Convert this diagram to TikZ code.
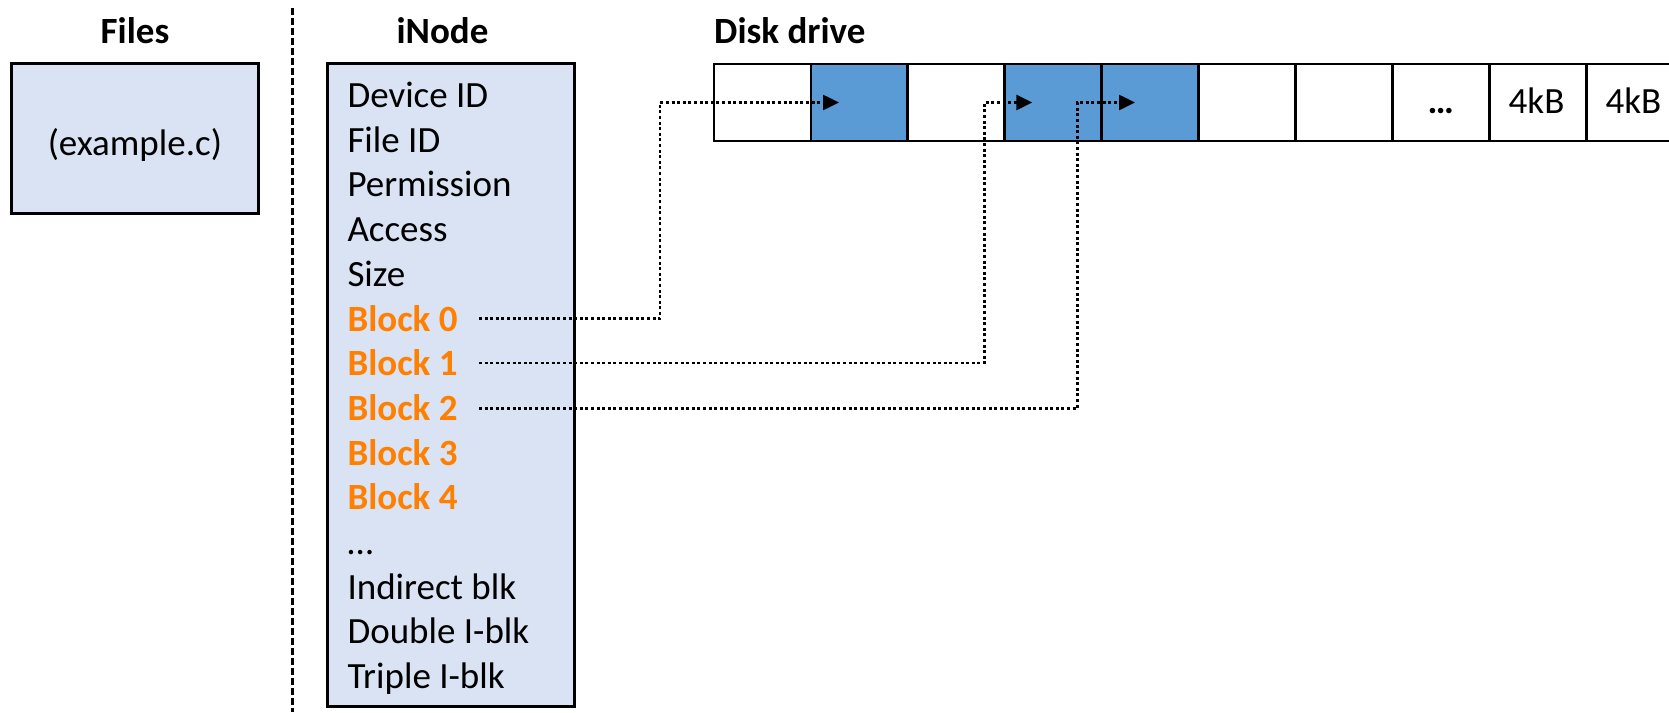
\documentclass[tikz,border=0pt]{standalone}
\usepackage{fontspec}
\setmainfont{Carlito}
\usetikzlibrary{arrows.meta}
\definecolor{boxfill}{HTML}{DAE3F3}
\definecolor{cellblue}{HTML}{5B9BD5}
\definecolor{blkorange}{HTML}{FF8000}
\begin{document}
\begin{tikzpicture}[x=1pt,y=-1pt,
  every node/.style={font=\fontsize{37}{45.2}\selectfont, inner sep=0pt},
  title/.style={font=\bfseries\fontsize{37}{45.2}\selectfont, anchor=base},
  panel/.style={draw=black, line width=3pt, fill=boxfill, inner sep=0pt},
  cellbox/.style={draw=black, line width=2.8pt, minimum width=96.9pt, minimum height=77pt, inner sep=0pt},
  usedcell/.style={cellbox, fill=cellblue},
  field/.style={anchor=base west},
  blk/.style={field, text=blkorange, font=\bfseries\fontsize{37}{45.2}\selectfont},
  link/.style={line width=2.5pt, dash pattern=on 3pt off 2.6pt, -{Triangle[length=16pt,width=15pt]}},
  sepline/.style={line width=2.5pt, dash pattern=on 7pt off 3pt}
]
\useasboundingbox (0,0) rectangle (1669,712);
\clip (0,0) rectangle (1669,712);

% titles
\node[title] (filesT) at (135,43.5) {Files};
\node[title] (inodeT) at (442.5,43.5) {iNode};
\node[title, anchor=base west] (diskT) at (714,43.5) {Disk drive};

% separator
\coordinate (sepTop) at (292.5,8);
\coordinate (sepBot) at (292.5,712);
\draw[sepline] (sepTop) -- (sepBot);

% files box
\node[panel, minimum width=247.7pt, minimum height=150pt] (files) at (134.9,138.3) {};
\node[anchor=base] (fname) at (134.9,155) {(example.c)};

% inode box
\node[panel, minimum width=246.6pt, minimum height=642.7pt] (inode) at (451,384.65) {};
\node[field] (f0) at (347.3,107.5) {Device ID};
\node[field] (f1) at (347.3,152.2) {File ID};
\node[field] (f2) at (347.3,196.9) {Permission};
\node[field] (f3) at (347.3,241.6) {Access};
\node[field] (f4) at (347.3,286.3) {Size};
\node[blk] (b0) at (347.3,331.0) {Block 0};
\node[blk] (b1) at (347.3,375.7) {Block 1};
\node[blk] (b2) at (347.3,420.4) {Block 2};
\node[blk] (b3) at (347.3,465.1) {Block 3};
\node[blk] (b4) at (347.3,509.8) {Block 4};
\node[field] (f5) at (347.3,554.5) {…};
\node[field] (f6) at (347.3,599.2) {Indirect blk};
\node[field] (f7) at (347.3,643.9) {Double I-blk};
\node[field] (f8) at (347.3,688.6) {Triple I-blk};

% disk cells
\node[cellbox]  (c0) at (762.45,102.5) {};
\node[usedcell] (c1) at (859.35,102.5) {};
\node[cellbox]  (c2) at (956.25,102.5) {};
\node[usedcell] (c3) at (1053.15,102.5) {};
\node[usedcell] (c4) at (1150.05,102.5) {};
\node[cellbox]  (c5) at (1246.95,102.5) {};
\node[cellbox]  (c6) at (1343.85,102.5) {};
\node[cellbox]  (c7) at (1440.75,102.5) {};
\node[cellbox]  (c8) at (1537.65,102.5) {};
\node[cellbox]  (c9) at (1634.55,102.5) {};
\node[anchor=base, font=\bfseries\fontsize{37}{45.2}\selectfont] (dots) at (1440.75,113.5) {…};
\node[anchor=base] (k8) at (1536.5,113.5) {4kB};
\node[anchor=base] (k9) at (1633.4,113.5) {4kB};

% connectors
\coordinate (s0) at (479,318.7);
\coordinate (s1) at (479,363);
\coordinate (s2) at (479,408.5);
\coordinate (k0) at (660,102.5);
\coordinate (k1) at (984.3,102.5);
\coordinate (k2) at (1077.3,102.5);
\draw[link] (s0) -| (k0) -- ([xshift=29.5pt]c1.west);
\draw[link] (s1) -| (k1) -- ([xshift=29pt]c3.west);
\draw[link] (s2) -| (k2) -- ([xshift=34.8pt]c4.west);
\end{tikzpicture}
\end{document}
